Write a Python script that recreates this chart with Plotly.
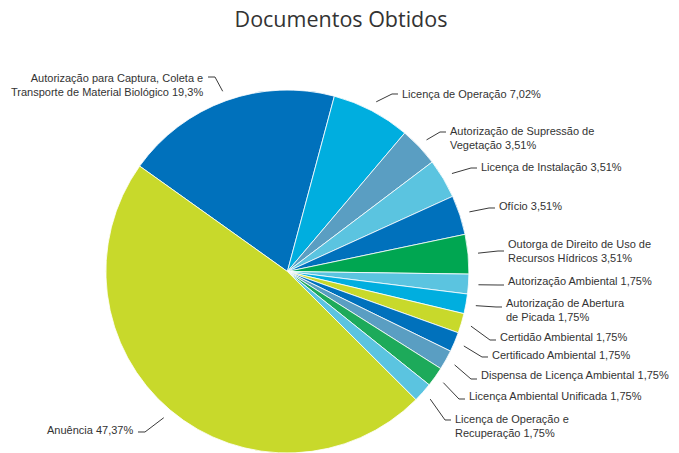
import math
import plotly.graph_objects as go

# dados do grafico (percentuais)
rotulos = ['Autorização para Captura, Coleta e<br>Transporte de Material Biológico',
           'Licença de Operação',
           'Autorização de Supressão de<br>Vegetação',
           'Licença de Instalação',
           'Ofício',
           'Outorga de Direito de Uso de<br>Recursos Hídricos',
           'Autorização Ambiental',
           'Autorização de Abertura<br>de Picada',
           'Certidão Ambiental',
           'Certificado Ambiental',
           'Dispensa de Licença Ambiental',
           'Licença Ambiental Unificada',
           'Licença de Operação e<br>Recuperação',
           'Anuência']
percentuais = [19.3, 7.02, 3.51, 3.51, 3.51, 3.51, 1.75, 1.75, 1.75, 1.75, 1.75, 1.75, 1.75, 47.37]
cores = ['#0071bc', '#00aedf', '#5a9ec2', '#5bc4e0', '#0071bc', '#00a651', '#5bc4e0',
         '#00aedf', '#c8d92b', '#0071bc', '#5a9ec2', '#1daa5a', '#5bc4e0', '#c8d92b']

# posicao dos rotulos (px da imagem): x do texto, y do centro do bloco, y da linha guia
lbl_x = [205, 400, 448, 479, 497, 506, 506, 504, 498, 490, 479, 467, 453, 135]
lbl_y = [85, 94, 138, 167, 206, 251, 281, 310, 337, 355, 375, 396, 426, 430]
lead_y = [77, 94, 132, 168, 208, 251, 285, 307, 340, 357, 379, 399, 420, 432]

W, H = 679, 453
OFF = 8  # margem do body da pagina
cx, cy, r = 287.4, 271.5, 181.5
rotacao = -54.5


def px(x):
    return (x - OFF) / W


def py(y):
    return 1 - (y - OFF) / H


fig = go.Figure(go.Pie(
    labels=[t.replace('<br>', ' ') for t in rotulos],
    values=percentuais,
    sort=False,
    direction='clockwise',
    rotation=rotacao,
    marker=dict(colors=cores, line=dict(color='white', width=0.8)),
    textinfo='none',
    domain=dict(x=[px(cx - r), px(cx + r)], y=[py(cy + r), py(cy - r)]),
    showlegend=False,
))

total = sum(percentuais)
acum = 0
shapes = []
annotations = []
for i, v in enumerate(percentuais):
    meio = rotacao + (acum + v / 2) / total * 360
    acum += v
    a = math.radians(meio)
    x0 = cx + (r + 10) * math.sin(a)
    y0 = cy - (r + 10) * math.cos(a)
    direita = math.sin(a) > 0
    if direita:
        x1, x2 = lbl_x[i] - 8, lbl_x[i] - 2
    else:
        x1, x2 = lbl_x[i] + 10, lbl_x[i] + 3
    shapes.append(dict(type='path', xref='paper', yref='paper',
                       path='M %f,%f L %f,%f L %f,%f' % (px(x0), py(y0), px(x1), py(lead_y[i]),
                                                         px(x2), py(lead_y[i])),
                       line=dict(color='#3a3a3a', width=1)))
    pct = ('%g' % v).replace('.', ',')
    annotations.append(dict(text=rotulos[i] + ' ' + pct + '%', xref='paper', yref='paper',
                            x=px(lbl_x[i]), y=py(lbl_y[i]), showarrow=False,
                            xanchor='left' if direita else 'right', yanchor='middle',
                            align='left' if direita else 'right',
                            font=dict(family='Liberation Sans', size=11, color='#333333')))

fig.update_layout(
    width=W, height=H,
    margin=dict(l=0, r=0, t=0, b=0),
    paper_bgcolor='white',
    title=dict(text='Documentos Obtidos', x=px(341), xanchor='center', y=py(19), yanchor='middle',
               yref='container', font=dict(family='Open Sans', size=21.5, color='#333333')),
    shapes=shapes,
    annotations=annotations,
)

fig.write_html("out.html")
